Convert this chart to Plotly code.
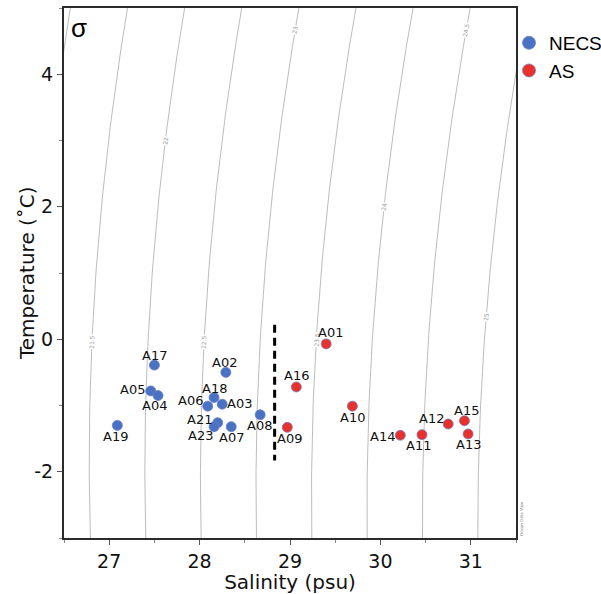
import numpy as np
import plotly.graph_objects as go

# ---------------- data ----------------
NECS_NAMES = ["A17", "A02", "A05", "A04", "A18", "A06", "A03", "A21", "A23", "A07", "A08", "A19"]
NECS_SAL = [27.50, 28.29, 27.46, 27.54, 28.16, 28.09, 28.25, 28.20, 28.16, 28.35, 28.67, 27.09]
NECS_TEMP = [-0.39, -0.50, -0.78, -0.85, -0.88, -1.01, -0.98, -1.26, -1.32, -1.32, -1.14, -1.30]

AS_NAMES = ["A16", "A09", "A01", "A10", "A14", "A11", "A12", "A15", "A13"]
AS_SAL = [29.07, 28.97, 29.40, 29.69, 30.22, 30.46, 30.75, 30.93, 30.97]
AS_TEMP = [-0.72, -1.33, -0.07, -1.01, -1.45, -1.44, -1.28, -1.23, -1.43]

DIVIDER_SAL = [28.83, 28.83]
DIVIDER_TEMP = [0.22, -1.83]

SIGMA_LEVELS = [21.0, 21.5, 22.0, 22.5, 23.0, 23.5, 24.0, 24.5, 25.0]
SIGMA_LABEL_TEMP = {21.5: -0.04, 22.0: 3.0, 22.5: -0.04, 23.0: 4.67,
                     23.5: 0.0, 24.0: 2.0, 24.5: 4.67, 25.0: 0.34}

X_TICKS = [27, 28, 29, 30, 31]
Y_TICKS = [-2, 0, 2, 4]
Y_TICK_TEXT = ["-2", "0", "2", "4"]

# label offsets in pixels (dx right, dy down)
LABEL_OFFSETS = {
    "A17": (0, -10), "A02": (-1, -10), "A05": (-18, -1), "A04": (-4, 10),
    "A18": (0, -9), "A06": (-17, -6), "A03": (17, -1), "A21": (-18, -3),
    "A23": (-14, 9), "A07": (0, 11), "A08": (-1, 11), "A19": (-2, 11),
    "A16": (0, -11), "A09": (2, 11), "A01": (4, -11), "A10": (0, 11),
    "A14": (-18, 1), "A11": (-3, 11), "A12": (-17, -6), "A15": (2, -10),
    "A13": (0, 11),
}

X_RANGE = [26.5, 31.5]
Y_RANGE = [-3.0, 5.0]

NECS_COLOR = "#4a72c4"
AS_COLOR = "#e8312a"

# ---------------- isopycnals (UNESCO EOS-80, p = 0) ----------------
def sigma_t(S, T):
    rw = (999.842594 + 6.793952e-2 * T - 9.095290e-3 * T**2 + 1.001685e-4 * T**3
          - 1.120083e-6 * T**4 + 6.536332e-9 * T**5)
    A = 8.24493e-1 - 4.0899e-3 * T + 7.6438e-5 * T**2 - 8.2467e-7 * T**3 + 5.3875e-9 * T**4
    B = -5.72466e-3 + 1.0227e-4 * T - 1.6546e-6 * T**2
    C = 4.8314e-4
    return rw + A * S + B * S**1.5 + C * S**2 - 1000.0

S_GRID = np.linspace(25.0, 33.0, 4001)

def iso_sal(level, T):
    return float(np.interp(level, sigma_t(S_GRID, T), S_GRID))

T_LINE = np.linspace(Y_RANGE[0], Y_RANGE[1], 81)

fig = go.Figure()

# plot geometry (px)
PL, PR, PT, PB = 64, 85, 8, 56
W, H = 601, 594
pw, ph = W - PL - PR, H - PT - PB
px_per_s = pw / (X_RANGE[1] - X_RANGE[0])
px_per_t = ph / (Y_RANGE[1] - Y_RANGE[0])

annotations = []
for lev in SIGMA_LEVELS:
    s_line = [iso_sal(lev, t) for t in T_LINE]
    fig.add_trace(go.Scatter(x=s_line, y=list(T_LINE), mode="lines",
                             line=dict(color="#b4b4b4", width=0.9),
                             hoverinfo="skip", showlegend=False))
    if lev in SIGMA_LABEL_TEMP:
        tl = SIGMA_LABEL_TEMP[lev]
        sl = iso_sal(lev, tl)
        ds = iso_sal(lev, tl + 0.1) - iso_sal(lev, tl - 0.1)
        dx = ds * px_per_s
        dy = 0.2 * px_per_t
        ang = -np.degrees(np.arctan2(dy, dx))
        annotations.append(dict(x=sl, y=tl, text="%g" % lev, showarrow=False,
                                textangle=ang, bgcolor="white", borderpad=0,
                                font=dict(family="DejaVu Sans", size=6, color="#999999"),
                                xanchor="center", yanchor="middle"))

# divider
fig.add_trace(go.Scatter(x=DIVIDER_SAL, y=DIVIDER_TEMP, mode="lines",
                         line=dict(color="black", width=3, dash="8px,5px"),
                         hoverinfo="skip", showlegend=False))

# stations
fig.add_trace(go.Scatter(x=NECS_SAL, y=NECS_TEMP, mode="markers", name="NECS",
                         legendgroup="NECS", showlegend=False,
                         marker=dict(size=10, color=NECS_COLOR,
                                     line=dict(color="#6a7fc0", width=0.8))))
fig.add_trace(go.Scatter(x=AS_SAL, y=AS_TEMP, mode="markers", name="AS",
                         legendgroup="AS", showlegend=False,
                         marker=dict(size=10, color=AS_COLOR,
                                     line=dict(color="#7c7cc0", width=0.8))))
# legend entries (larger symbols, as in the reference legend)
fig.add_trace(go.Scatter(x=[None], y=[None], mode="markers", name="NECS", legendgroup="NECS",
                         marker=dict(size=13, color=NECS_COLOR, line=dict(color="#6a7fc0", width=0.8))))
fig.add_trace(go.Scatter(x=[None], y=[None], mode="markers", name="AS", legendgroup="AS",
                         marker=dict(size=13, color=AS_COLOR, line=dict(color="#7c7cc0", width=0.8))))

for names, sal, temp in ((NECS_NAMES, NECS_SAL, NECS_TEMP), (AS_NAMES, AS_SAL, AS_TEMP)):
    for n, s, t in zip(names, sal, temp):
        ox, oy = LABEL_OFFSETS[n]
        annotations.append(dict(x=s, y=t, text=n, showarrow=False,
                                xshift=ox, yshift=-oy,
                                font=dict(family="DejaVu Sans", size=13, color="#111111"),
                                xanchor="center", yanchor="middle"))

# sigma symbol
annotations.append(dict(x=0.012, y=0.995, xref="paper", yref="paper", text="σ",
                        showarrow=False, xanchor="left", yanchor="top",
                        font=dict(family="Liberation Sans", size=26, color="black")))
# ODV credit
annotations.append(dict(x=1.0, y=0.0, xref="paper", yref="paper", text="Ocean Data View",
                        showarrow=False, xanchor="left", yanchor="bottom", textangle=-90,
                        xshift=1,
                        font=dict(family="DejaVu Sans", size=4, color="#777777")))
# y-axis title
annotations.append(dict(x=(27 - PL) / pw, y=0.5, xref="paper", yref="paper",
                        text="Temperature (˚C)", showarrow=False, textangle=-90,
                        xanchor="center", yanchor="middle",
                        font=dict(family="DejaVu Sans", size=20, color="#111111")))

axis_common = dict(showline=True, linecolor="#2b2b2b", linewidth=2, mirror=True,
                   showgrid=False, zeroline=False, ticks="outside", ticklen=5,
                   tickwidth=1, tickcolor="#555555",
                   tickfont=dict(family="DejaVu Sans", size=19, color="#111111"))

fig.update_layout(
    width=W, height=H,
    margin=dict(l=PL, r=PR, t=PT, b=PB, autoexpand=False),
    paper_bgcolor="white", plot_bgcolor="white",
    xaxis=dict(range=X_RANGE, tickvals=X_TICKS,
               minor=dict(dtick=0.5, ticks="outside", ticklen=3, tickcolor="#888888"),
               title=dict(text="Salinity (psu)", standoff=6,
                          font=dict(family="DejaVu Sans", size=20, color="#111111")),
               **axis_common),
    yaxis=dict(range=Y_RANGE, tickvals=Y_TICKS, ticktext=Y_TICK_TEXT,
               minor=dict(dtick=1, ticks="outside", ticklen=3, tickcolor="#888888"),
               **axis_common),
    legend=dict(x=(509 - PL) / pw, y=0.97, xanchor="left", yanchor="top",
                font=dict(family="Liberation Sans", size=19, color="black"),
                itemwidth=30, tracegroupgap=0, bgcolor="rgba(0,0,0,0)"),
    annotations=annotations,
    showlegend=True,
)

fig.write_html("out.html")
